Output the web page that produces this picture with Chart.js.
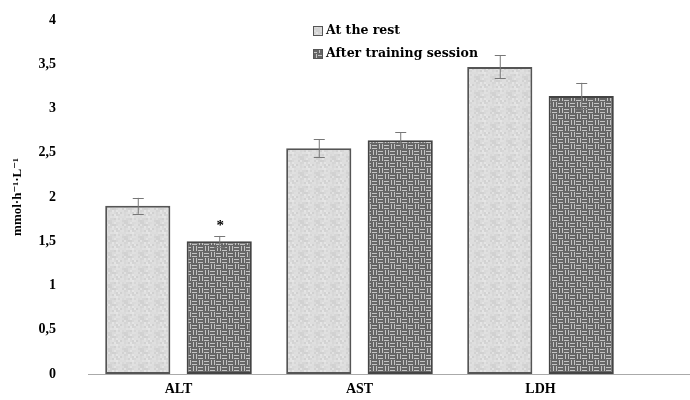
<!DOCTYPE html>
<html>
<head>
<meta charset="utf-8">
<script src="https://cdn.jsdelivr.net/npm/chart.js@4"></script>
<style>
  body { margin: 0; background: #fff; }
  #wrap { width: 690px; height: 400px; }
</style>
</head>
<body>
<div id="wrap"><canvas id="enzymeChart"></canvas></div>
<script>
// data
const categories = ['ALT', 'AST', 'LDH'];
const restValues = [1.90, 2.55, 3.47];
const restErrors = [0.09, 0.10, 0.13];
const afterValues = [1.50, 2.64, 3.14];
const afterErrors = [0.06, 0.09, 0.15];
const seriesNames = ['At the rest', 'After training session'];
const yTicks = [0, 0.5, 1, 1.5, 2, 2.5, 3, 3.5, 4];
const markers = [['', '', ''], ['*', '', '']];

const FONT = '"Liberation Serif", "DejaVu Serif", serif';

// light mottled texture
function lightPattern() {
    const c = document.createElement('canvas');
    c.width = 16; c.height = 16;
    const g = c.getContext('2d');
    g.fillStyle = '#dadada';
    g.fillRect(0, 0, 16, 16);
    for (let y = 0; y < 16; y += 2) {
        for (let x = 0; x < 16; x += 2) {
            const h = Math.abs(Math.sin(x * 12.9898 + y * 78.233) * 43758.5453) % 1;
            const v = Math.round(208 + h * 22);
            g.fillStyle = `rgb(${v},${v},${v})`;
            g.fillRect(x, y, 2, 2);
        }
    }
    return g.createPattern(c, 'repeat');
}

// dark basket-weave texture
function darkPattern() {
    const c = document.createElement('canvas');
    c.width = 12; c.height = 12;
    const g = c.getContext('2d');
    g.fillStyle = '#666';
    g.fillRect(0, 0, 12, 12);
    g.fillStyle = '#c4c4c4';
    // horizontal dashes in top-left and bottom-right blocks
    g.fillRect(0, 1, 5, 1); g.fillRect(0, 4, 5, 1);
    g.fillRect(6, 7, 5, 1); g.fillRect(6, 10, 5, 1);
    // vertical dashes in top-right and bottom-left blocks
    g.fillRect(7, 0, 1, 5); g.fillRect(10, 0, 1, 5);
    g.fillRect(1, 6, 1, 5); g.fillRect(4, 6, 1, 5);
    return g.createPattern(c, 'repeat');
}

const patterns = [lightPattern(), darkPattern()];
const errors = [restErrors, afterErrors];

// error bars, significance marks, extended axis line and legend
const extras = {
    id: 'extras',
    afterDatasetsDraw(chart) {
        const ctx = chart.ctx;
        const yScale = chart.scales.y;
        ctx.save();
        chart.data.datasets.forEach((ds, di) => {
            const meta = chart.getDatasetMeta(di);
            meta.data.forEach((bar, i) => {
                const v = ds.data[i];
                const e = errors[di][i];
                const yHi = yScale.getPixelForValue(v + e);
                const yLo = yScale.getPixelForValue(v - e);
                ctx.strokeStyle = '#777';
                ctx.lineWidth = 1;
                ctx.beginPath();
                ctx.moveTo(bar.x + 0.5, yHi);
                ctx.lineTo(bar.x + 0.5, yLo);
                ctx.moveTo(bar.x - 5, Math.round(yHi) + 0.5);
                ctx.lineTo(bar.x + 6, Math.round(yHi) + 0.5);
                ctx.moveTo(bar.x - 5, Math.round(yLo) + 0.5);
                ctx.lineTo(bar.x + 6, Math.round(yLo) + 0.5);
                ctx.stroke();
                const m = markers[di][i];
                if (m) {
                    ctx.fillStyle = '#000';
                    ctx.font = 'bold 15px ' + FONT;
                    ctx.textAlign = 'center';
                    ctx.textBaseline = 'bottom';
                    ctx.fillText(m, bar.x + 1, yHi - 2);
                }
            });
        });
        // x axis line runs to the right edge
        const yb = Math.round(yScale.getPixelForValue(0)) + 0.5;
        ctx.strokeStyle = '#aaa';
        ctx.lineWidth = 1;
        ctx.beginPath();
        ctx.moveTo(chart.chartArea.left, yb);
        ctx.lineTo(chart.width, yb);
        ctx.stroke();
        // legend
        ctx.font = 'bold 12.5px "DejaVu Serif", serif';
        ctx.textAlign = 'left';
        ctx.textBaseline = 'middle';
        chart.data.datasets.forEach((ds, di) => {
            const ly = 31 + di * 23;
            ctx.fillStyle = patterns[di];
            ctx.fillRect(313, ly - 5, 10, 10);
            ctx.strokeStyle = '#555';
            ctx.strokeRect(313.5, ly - 4.5, 9, 9);
            ctx.fillStyle = '#000';
            ctx.fillText(ds.label, 326, ly);
        });
        ctx.restore();
    }
};

const ctx = document.getElementById('enzymeChart').getContext('2d');
const enzymeChart = new Chart(ctx, {
    type: 'bar',
    data: {
        labels: categories,
        datasets: [
            {
                label: seriesNames[0],
                data: restValues,
                backgroundColor: patterns[0],
                borderColor: '#555',
                borderWidth: 2,
                borderSkipped: false
            },
            {
                label: seriesNames[1],
                data: afterValues,
                backgroundColor: patterns[1],
                borderColor: '#444',
                borderWidth: 2,
                borderSkipped: false
            }
        ]
    },
    options: {
        responsive: true,
        maintainAspectRatio: false,
        animation: false,
        layout: { padding: { top: 20, right: 59, bottom: 0, left: 0 } },
        plugins: {
            legend: { display: false },
            tooltip: { enabled: false }
        },
        datasets: {
            bar: { categoryPercentage: 0.9, barPercentage: 0.8 }
        },
        scales: {
            x: {
                afterFit: scale => { scale.height = 26; },
                grid: { display: false, drawTicks: false },
                border: { display: false },
                ticks: {
                    color: '#000',
                    padding: 7,
                    font: { family: FONT, size: 14, weight: 'bold' }
                }
            },
            y: {
                min: 0,
                max: 4,
                afterBuildTicks: scale => {
                    scale.ticks = yTicks.map(v => ({ value: v }));
                },
                afterFit: scale => { scale.width = 88; },
                grid: { display: false, drawTicks: true, tickLength: 29, tickColor: 'rgba(0,0,0,0)' },
                border: { display: false },
                ticks: {
                    color: '#000',
                    padding: 3,
                    font: { family: FONT, size: 14, weight: 'bold' },
                    callback: v => String(v).replace('.', ',')
                },
                title: {
                    display: true,
                    text: 'mmol·h⁻¹·L⁻¹',
                    color: '#000',
                    padding: { top: 10, bottom: 0 },
                    font: { family: FONT, size: 13, weight: 'bold' }
                }
            }
        }
    },
    plugins: [extras]
});
</script>
</body>
</html>
